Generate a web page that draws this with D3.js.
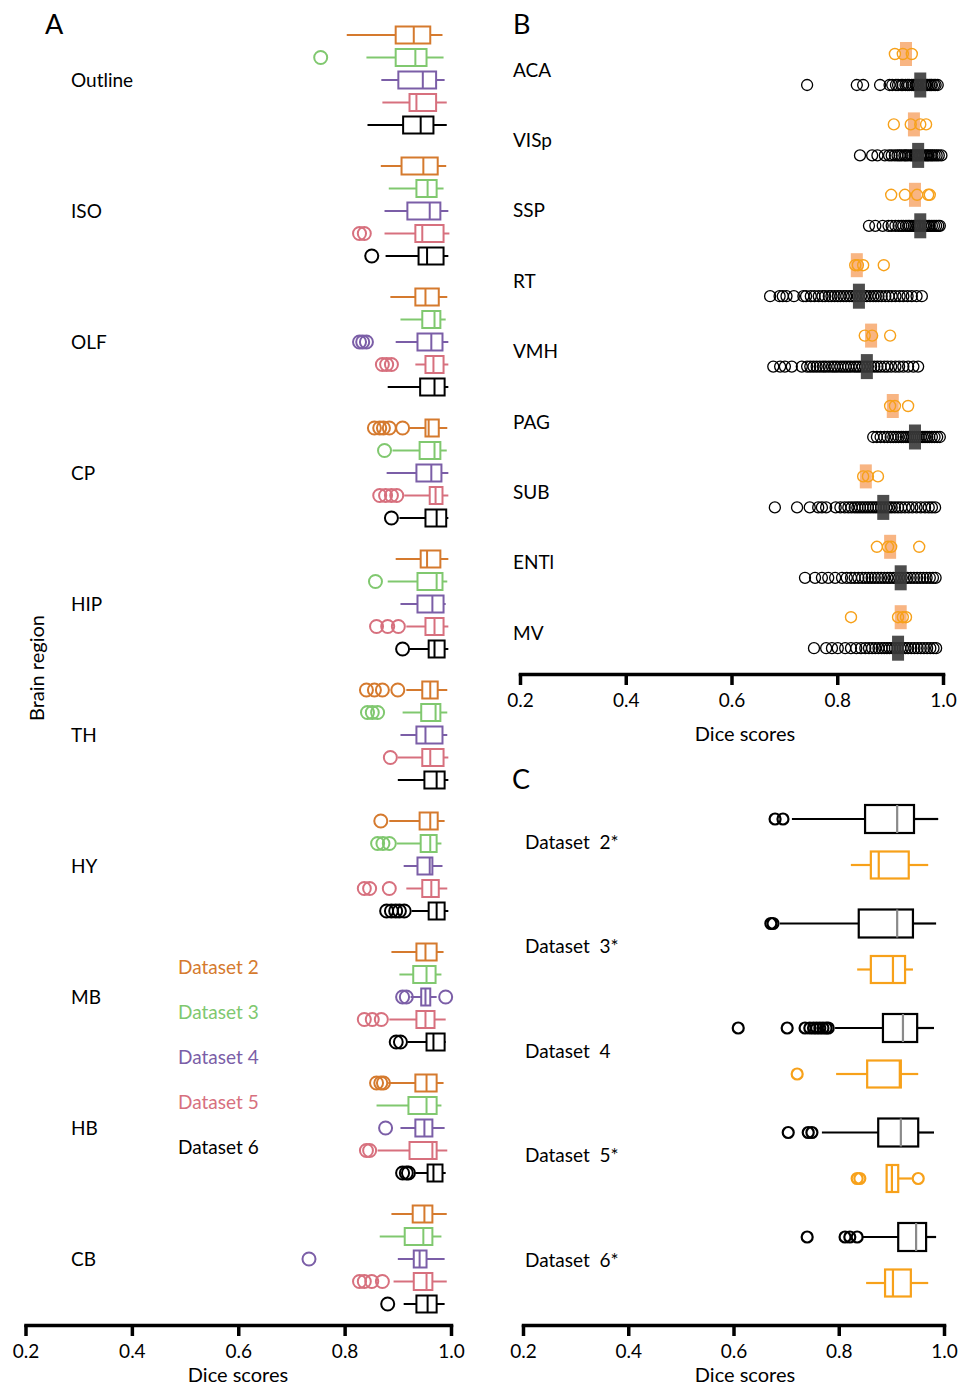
<!DOCTYPE html>
<html>
<head>
<meta charset="utf-8">
<script src="https://cdn.jsdelivr.net/npm/d3@7"></script>
<style>
  body { margin: 0; background: #fff; }
  text { font-family: Lato, "Open Sans", sans-serif; fill: #000; }
</style>
</head>
<body>
<script>
// ---------- Panel A data: [lowWhisker, q1, median, q3, highWhisker, outliers] ----------
const regionsA = ["Outline", "ISO", "OLF", "CP", "HIP", "TH", "HY", "MB", "HB", "CB"];
const datasetsA = ["Dataset 2", "Dataset 3", "Dataset 4", "Dataset 5", "Dataset 6"];
const colorsA = ["#d57a2e", "#80c86f", "#7b5ea7", "#d7707e", "#000000"];

const dataset2A = [
  [0.804, 0.896, 0.930, 0.961, 0.984, []],
  [0.868, 0.907, 0.948, 0.975, 0.991, []],
  [0.886, 0.933, 0.952, 0.977, 0.993, []],
  [0.922, 0.952, 0.958, 0.977, 0.993, [0.856, 0.866, 0.873, 0.884, 0.909]],
  [0.896, 0.943, 0.955, 0.980, 0.995, []],
  [0.916, 0.946, 0.961, 0.975, 0.993, [0.841, 0.856, 0.871, 0.900]],
  [0.884, 0.941, 0.961, 0.975, 0.988, [0.868]],
  [0.888, 0.935, 0.952, 0.973, 0.986, []],
  [0.882, 0.933, 0.954, 0.973, 0.986, [0.860, 0.868, 0.873]],
  [0.888, 0.928, 0.950, 0.965, 0.992, []]
];
const dataset3A = [
  [0.841, 0.896, 0.933, 0.954, 0.986, [0.755]],
  [0.883, 0.935, 0.956, 0.973, 0.986, []],
  [0.905, 0.946, 0.969, 0.980, 0.990, []],
  [0.890, 0.941, 0.969, 0.980, 0.992, [0.875]],
  [0.881, 0.937, 0.973, 0.984, 0.993, [0.858]],
  [0.909, 0.944, 0.971, 0.980, 0.993, [0.843, 0.852, 0.862]],
  [0.898, 0.943, 0.961, 0.973, 0.982, [0.862, 0.872, 0.884]],
  [0.903, 0.929, 0.954, 0.971, 0.982, []],
  [0.860, 0.920, 0.954, 0.973, 0.982, []],
  [0.866, 0.913, 0.948, 0.965, 0.982, []]
];
const dataset4A = [
  [0.869, 0.901, 0.947, 0.972, 0.988, []],
  [0.875, 0.918, 0.960, 0.980, 0.995, []],
  [0.896, 0.937, 0.963, 0.984, 0.995, [0.828, 0.834, 0.841]],
  [0.879, 0.935, 0.963, 0.982, 0.995, []],
  [0.905, 0.937, 0.965, 0.986, 0.990, []],
  [0.905, 0.935, 0.952, 0.984, 0.993, []],
  [0.911, 0.937, 0.960, 0.965, 0.984, []],
  [0.924, 0.944, 0.952, 0.961, 0.973, [0.909, 0.916, 0.990]],
  [0.905, 0.933, 0.950, 0.965, 0.988, [0.877]],
  [0.900, 0.930, 0.941, 0.954, 0.988, [0.733]]
];
const dataset5A = [
  [0.871, 0.922, 0.935, 0.972, 0.992, []],
  [0.875, 0.933, 0.946, 0.986, 0.997, [0.828, 0.837]],
  [0.933, 0.952, 0.967, 0.986, 0.995, [0.871, 0.879, 0.888]],
  [0.912, 0.960, 0.971, 0.984, 0.995, [0.866, 0.877, 0.888, 0.898]],
  [0.916, 0.952, 0.969, 0.986, 0.995, [0.860, 0.881, 0.901]],
  [0.900, 0.946, 0.961, 0.986, 0.995, [0.886]],
  [0.916, 0.946, 0.963, 0.977, 0.993, [0.837, 0.847, 0.884]],
  [0.884, 0.935, 0.952, 0.969, 0.990, [0.837, 0.852, 0.869]],
  [0.862, 0.922, 0.965, 0.973, 0.993, [0.841, 0.847]],
  [0.892, 0.930, 0.954, 0.965, 0.992, [0.828, 0.837, 0.851, 0.871]]
];
const dataset6A = [
  [0.843, 0.910, 0.943, 0.967, 0.992, []],
  [0.877, 0.939, 0.955, 0.986, 0.995, [0.851]],
  [0.881, 0.942, 0.969, 0.988, 0.995, []],
  [0.903, 0.952, 0.973, 0.991, 0.995, [0.888]],
  [0.922, 0.958, 0.969, 0.988, 0.995, [0.909]],
  [0.900, 0.950, 0.973, 0.988, 0.995, []],
  [0.926, 0.958, 0.973, 0.988, 0.995, [0.879, 0.888, 0.896, 0.903, 0.912]],
  [0.918, 0.954, 0.967, 0.988, 0.990, [0.897, 0.905]],
  [0.933, 0.956, 0.967, 0.984, 0.990, [0.909, 0.916, 0.920]],
  [0.911, 0.935, 0.956, 0.973, 0.988, [0.881]]
];
const statsA = [dataset2A, dataset3A, dataset4A, dataset5A, dataset6A];

// ---------- Panel B data ----------
const regionsB = ["ACA", "VISp", "SSP", "RT", "VMH", "PAG", "SUB", "ENTl", "MV"];
const orangePointsB = [
  [0.909, 0.924, 0.941],
  [0.907, 0.939, 0.957, 0.968],
  [0.902, 0.928, 0.951, 0.972, 0.975],
  [0.834, 0.839, 0.849, 0.888],
  [0.852, 0.866, 0.900],
  [0.900, 0.909, 0.934],
  [0.849, 0.858, 0.877],
  [0.875, 0.896, 0.902, 0.955],
  [0.826, 0.915, 0.924, 0.930]
];
const orangeMeanB = [0.930, 0.945, 0.947, 0.837, 0.864, 0.905, 0.854, 0.900, 0.920];
const blackMeanB = [0.957, 0.953, 0.957, 0.841, 0.856, 0.947, 0.887, 0.920, 0.915];
const blackPointsB = [
  [0.743, 0.837, 0.849, 0.881, 0.899, 0.904, 0.911, 0.915, 0.921, 0.924, 0.929, 0.933, 0.936, 0.941, 0.944, 0.948,
   0.950, 0.953, 0.957, 0.959, 0.962, 0.966, 0.968, 0.971, 0.974, 0.977, 0.979, 0.983, 0.986, 0.990],
  [0.843, 0.866, 0.876, 0.890, 0.898, 0.903, 0.909, 0.914, 0.918, 0.922, 0.927, 0.930, 0.934, 0.939, 0.942, 0.946,
   0.949, 0.952, 0.956, 0.959, 0.963, 0.967, 0.970, 0.973, 0.977, 0.980, 0.984, 0.988, 0.992, 0.997],
  [0.860, 0.872, 0.886, 0.897, 0.903, 0.910, 0.916, 0.921, 0.925, 0.930, 0.934, 0.937, 0.941, 0.945, 0.948, 0.952,
   0.955, 0.958, 0.962, 0.965, 0.968, 0.972, 0.975, 0.979, 0.983, 0.987, 0.991, 0.994],
  [0.673, 0.691, 0.697, 0.704, 0.718, 0.736, 0.741, 0.750, 0.757, 0.765, 0.772, 0.777, 0.784, 0.789, 0.795, 0.801,
   0.806, 0.812, 0.817, 0.823, 0.828, 0.834, 0.839, 0.845, 0.851, 0.856, 0.862, 0.868, 0.873, 0.878, 0.884, 0.891,
   0.897, 0.903, 0.910, 0.918, 0.925, 0.933, 0.941, 0.950, 0.960],
  [0.679, 0.692, 0.701, 0.714, 0.733, 0.743, 0.749, 0.755, 0.761, 0.767, 0.773, 0.778, 0.784, 0.790, 0.795, 0.800,
   0.806, 0.811, 0.816, 0.821, 0.826, 0.832, 0.837, 0.842, 0.848, 0.853, 0.858, 0.864, 0.870, 0.876, 0.882, 0.889,
   0.895, 0.902, 0.910, 0.917, 0.925, 0.934, 0.944, 0.953],
  [0.868, 0.875, 0.882, 0.889, 0.895, 0.901, 0.906, 0.911, 0.916, 0.921, 0.925, 0.930, 0.934, 0.938, 0.942, 0.946,
   0.950, 0.954, 0.958, 0.962, 0.966, 0.970, 0.974, 0.979, 0.984, 0.989, 0.994],
  [0.682, 0.724, 0.748, 0.764, 0.771, 0.779, 0.797, 0.806, 0.814, 0.821, 0.827, 0.833, 0.838, 0.843, 0.848, 0.853,
   0.858, 0.863, 0.868, 0.873, 0.878, 0.883, 0.888, 0.893, 0.898, 0.903, 0.909, 0.915, 0.921, 0.928, 0.935, 0.942,
   0.950, 0.958, 0.966, 0.973, 0.979, 0.985],
  [0.739, 0.758, 0.771, 0.783, 0.796, 0.809, 0.818, 0.826, 0.833, 0.840, 0.847, 0.853, 0.859, 0.865, 0.871, 0.877,
   0.883, 0.889, 0.895, 0.900, 0.906, 0.911, 0.917, 0.922, 0.928, 0.933, 0.939, 0.945, 0.951, 0.957, 0.963, 0.969,
   0.975, 0.981, 0.986],
  [0.756, 0.779, 0.790, 0.801, 0.815, 0.826, 0.836, 0.845, 0.853, 0.860, 0.866, 0.872, 0.878, 0.884, 0.889, 0.894,
   0.899, 0.904, 0.909, 0.914, 0.919, 0.924, 0.929, 0.934, 0.940, 0.946, 0.952, 0.958, 0.964, 0.970, 0.976, 0.982,
   0.987]
];

// ---------- Panel C data ----------
const datasetsC = ["Dataset  2*", "Dataset  3*", "Dataset  4", "Dataset  5*", "Dataset  6*"];
const blackC = [
  [0.711, 0.850, 0.911, 0.943, 0.989, [0.679, 0.694]],
  [0.688, 0.838, 0.911, 0.941, 0.985, [0.671, 0.675]],
  [0.793, 0.884, 0.922, 0.949, 0.981, [0.609, 0.702, 0.736, 0.745, 0.752, 0.758, 0.764, 0.770, 0.776, 0.780]],
  [0.768, 0.875, 0.918, 0.951, 0.981, [0.704, 0.742, 0.749]],
  [0.844, 0.913, 0.947, 0.966, 0.985, [0.740, 0.812, 0.821, 0.835]]
];
const orangeC = [
  [0.823, 0.861, 0.876, 0.933, 0.970, []],
  [0.835, 0.861, 0.903, 0.926, 0.941, []],
  [0.795, 0.854, 0.916, 0.918, 0.951, [0.721]],
  [0.891, 0.891, 0.901, 0.913, 0.939, [0.835, 0.840, 0.951]],
  [0.852, 0.888, 0.903, 0.937, 0.970, []]
];

const tickVals = [0.2, 0.4, 0.6, 0.8, 1.0];
const ORANGE = "#f7a11a";
const ORANGE_BAR = "#f8b583";

let svg = d3.select("body").append("svg")
  .attr("width", 960)
  .attr("height", 1387);

// draw one horizontal box with whiskers and outliers
function drawBox(g, x, yc, s, color, medColor, h, r, sw) {
  let lo = s[0], q1 = s[1], med = s[2], q3 = s[3], hi = s[4], outs = s[5];
  g.append("line").attr("x1", x(lo)).attr("x2", x(q1)).attr("y1", yc).attr("y2", yc)
    .attr("stroke", color).attr("stroke-width", sw);
  g.append("line").attr("x1", x(q3)).attr("x2", x(hi)).attr("y1", yc).attr("y2", yc)
    .attr("stroke", color).attr("stroke-width", sw);
  g.append("rect").attr("x", x(q1)).attr("y", yc - h / 2)
    .attr("width", x(q3) - x(q1)).attr("height", h)
    .attr("fill", "none").attr("stroke", color).attr("stroke-width", sw);
  g.append("line").attr("x1", x(med)).attr("x2", x(med)).attr("y1", yc - h / 2).attr("y2", yc + h / 2)
    .attr("stroke", medColor).attr("stroke-width", sw);
  g.selectAll(null).data(outs).enter().append("circle")
    .attr("cx", d => x(d)).attr("cy", yc).attr("r", r)
    .attr("fill", "none").attr("stroke", color).attr("stroke-width", sw);
}

function drawAxis(x, y, labelX, labelY) {
  let ax = svg.append("g")
    .attr("transform", `translate(0,${y})`)
    .call(d3.axisBottom(x).tickValues(tickVals).tickFormat(d3.format(".1f"))
      .tickSize(11).tickSizeOuter(0).tickPadding(9));
  ax.select(".domain").attr("stroke-width", 3.5).attr("stroke-linecap", "square");
  ax.selectAll(".tick line").attr("stroke-width", 3.5);
  ax.selectAll(".tick text").style("font-size", "19px").style("font-family", "Lato, sans-serif").attr("fill", "#000");
  svg.append("text")
    .attr("x", labelX)
    .attr("y", labelY)
    .style("text-anchor", "middle")
    .style("font-size", "20px")
    .text("Dice scores");
}

// ================= Panel A =================
let xA = d3.scaleLinear().domain([0.2, 1.0]).range([25.5, 451]);
let yA = d3.scaleBand().domain(regionsA).range([14.5, 1324.5]);
let offA = d3.scalePoint().domain(datasetsA).range([-45, 45]);
let gA = svg.append("g");

regionsA.forEach(function(reg, i) {
  let yc = yA(reg) + yA.bandwidth() / 2;
  gA.append("text").attr("x", 71).attr("y", yc).attr("dy", "0.35em")
    .style("font-size", "19px").text(reg);
  datasetsA.forEach(function(ds, j) {
    drawBox(gA, xA, yc + offA(ds), statsA[j][i], colorsA[j], colorsA[j], 17, 6.5, 2);
  });
});

drawAxis(xA, 1325, 238, 1382);

svg.append("text").attr("x", 45).attr("y", 34).style("font-size", "27px").text("A");
svg.append("text")
  .attr("transform", "translate(37,668) rotate(-90)")
  .attr("dy", "0.35em")
  .style("text-anchor", "middle")
  .style("font-size", "20px")
  .text("Brain region");

// legend
datasetsA.forEach(function(ds, j) {
  svg.append("text").attr("x", 178).attr("y", 967 + j * 45).attr("dy", "0.35em")
    .style("font-size", "19px").style("fill", colorsA[j]).text(ds);
});

// ================= Panel B =================
let xB = d3.scaleLinear().domain([0.2, 1.0]).range([520, 943]);
let yB = d3.scaleBand().domain(regionsB).range([34.8, 668.4]);
let gB = svg.append("g");

regionsB.forEach(function(reg, i) {
  let yc = yB(reg) + yB.bandwidth() / 2;
  let yo = yc - 16, yk = yc + 15;
  gB.append("text").attr("x", 513).attr("y", yc).attr("dy", "0.35em")
    .style("font-size", "19px").text(reg);
  // orange mean bar then points
  gB.append("rect").attr("x", xB(orangeMeanB[i]) - 6).attr("y", yo - 12)
    .attr("width", 12).attr("height", 24).attr("fill", ORANGE_BAR);
  gB.selectAll(null).data(orangePointsB[i]).enter().append("circle")
    .attr("cx", d => xB(d)).attr("cy", yo).attr("r", 5.5)
    .attr("fill", "none").attr("stroke", ORANGE).attr("stroke-width", 1.4);
  // black points then mean bar
  gB.selectAll(null).data(blackPointsB[i]).enter().append("circle")
    .attr("cx", d => xB(d)).attr("cy", yk).attr("r", 5.5)
    .attr("fill", "none").attr("stroke", "#000").attr("stroke-width", 1.3);
  gB.append("rect").attr("x", xB(blackMeanB[i]) - 6).attr("y", yk - 12.5)
    .attr("width", 12).attr("height", 25).attr("fill", "#3a3a3a").attr("opacity", 0.9);
});

drawAxis(xB, 674, 745, 741);
svg.append("text").attr("x", 513).attr("y", 34).style("font-size", "27px").text("B");

// ================= Panel C =================
let xC = d3.scaleLinear().domain([0.2, 1.0]).range([523, 944]);
let yC = d3.scaleBand().domain(datasetsC).range([789.75, 1312.25]);
let gC = svg.append("g");

datasetsC.forEach(function(ds, i) {
  let yc = yC(ds) + yC.bandwidth() / 2;
  gC.append("text").attr("x", 525).attr("y", yc).attr("dy", "0.35em")
    .style("font-size", "19px").style("white-space", "pre").text(ds);
  drawBox(gC, xC, yc - 23, blackC[i], "#000", "#8a8a8a", 28, 5.5, 2.2);
  drawBox(gC, xC, yc + 23, orangeC[i], ORANGE, ORANGE, 27, 5.5, 2.2);
});

drawAxis(xC, 1325, 745, 1382);
svg.append("text").attr("x", 512).attr("y", 789).style("font-size", "27px").text("C");
</script>
</body>
</html>
